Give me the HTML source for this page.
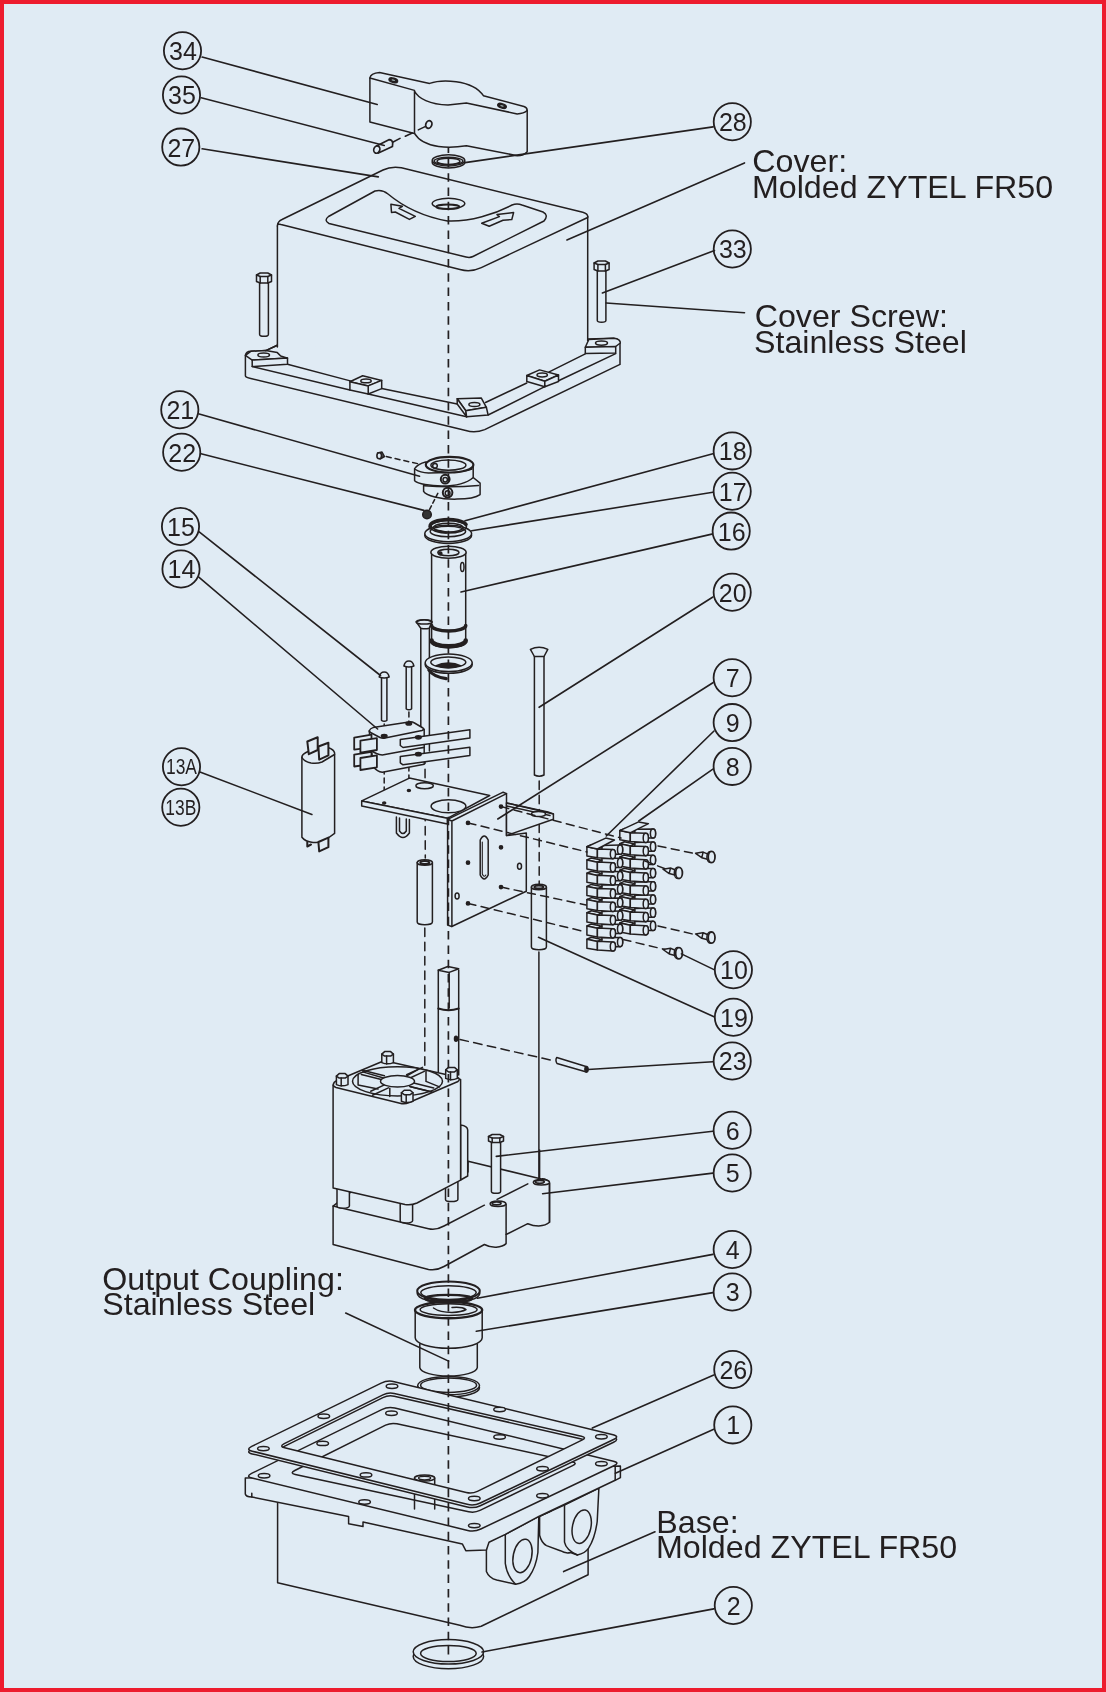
<!DOCTYPE html>
<html><head><meta charset="utf-8"><style>
html,body{margin:0;padding:0;background:#e0ebf4;}
svg{display:block;}
text{font-family:"Liberation Sans",sans-serif;fill:#231f20;}
.txt{filter:opacity(0.999);}
</style></head><body>
<svg width="1106" height="1692" viewBox="0 0 1106 1692">
<rect x="0" y="0" width="1106" height="1692" fill="#ed1c2e"/>
<rect x="4" y="4" width="1098" height="1684" fill="#e0ebf4"/>
<g fill="#e0ebf4" stroke="#231f20" stroke-width="1.5" stroke-linejoin="round" stroke-linecap="round">
<path d="M369.9,121.9 L369.9,78 Q370.5,73 379.6,72.4 L429.6,83.4 C440,79.5 472,78.5 483.4,95.7 L524,106.5 Q527.2,107.5 527.2,110.5 L527.2,151.8 Q524,155.7 517.2,155.7 L466.4,145.7 C452,148 424,149.5 414.5,133.4 Z"/>
<path d="M369.9,78 L414.5,90.4 L414.5,133.4 M414.5,91 C418,98.5 430,104.5 448,105 L466.4,103.1 L517.2,113.9 Q524,113.5 527.2,110.5" fill="none"/>
<ellipse cx="393.3" cy="80.3" rx="4.4" ry="2.1" transform="rotate(18 393.3 80.3)" fill="#231f20"/>
<ellipse cx="502.0" cy="105.9" rx="4.4" ry="2.1" transform="rotate(18 502.0 105.9)" fill="#231f20"/>
<ellipse cx="393.3" cy="80.2" rx="1.8" ry="0.7" transform="rotate(18 393.3 80.2)" fill="#9aa" stroke="none"/>
<ellipse cx="502.0" cy="105.8" rx="1.8" ry="0.7" transform="rotate(18 502.0 105.8)" fill="#9aa" stroke="none"/>
<ellipse cx="428.8" cy="124.5" rx="3.0" ry="3.9" transform="rotate(20 428.8 124.5)" stroke-width="1.8"/>
<path d="M392.7,142.2 L400,138.4 M405.3,136.2 L412.3,133 M418.3,129.9 L425.6,126.4" fill="none" stroke-width="1.6"/>
<path d="M376.5,146 L388.9,139.7 Q392.6,139.8 392.7,143.5 L392.4,146.6 L378.4,153" stroke-width="1.7"/>
<ellipse cx="376.8" cy="149.6" rx="3.0" ry="3.7" transform="rotate(20 376.8 149.6)" stroke-width="1.7"/>
<ellipse cx="448.5" cy="162.2" rx="16.3" ry="5.8"/>
<ellipse cx="448.5" cy="160.4" rx="16.3" ry="5.6"/>
<ellipse cx="448.5" cy="161.0" rx="14.4" ry="3.7"/>
<ellipse cx="448.5" cy="161.3" rx="11.5" ry="3.1" fill="none"/>
<path d="M245.4,375.7 L245.4,355.3 Q246,351.5 250.8,351.3 L265.8,350.6 L277.4,345.2 L587.7,339 L613.5,338.2 Q619.5,339 620,342.9 L620,364.4 L484.7,429.6 Q475,433.5 465.8,430.5 L250.8,378.4 Q245.4,377.5 245.4,375.7 Z"/>
<path d="M252.2,366.5 L349.9,389.9 M368.2,394 L466.6,416.8 M488.1,415 L544.8,386.7 M558.5,380.8 L615.7,353.6" fill="none"/>
<path d="M287.5,364.2 L351.2,381.1 M381.7,388.6 L457.2,404 M485.5,402.5 L526.8,383 M549.2,371.9 L585.3,353.8" fill="none"/>
<path d="M245.4,355.3 L250.8,351.3 L265.8,350.6 L277.3,352.6 L280.7,356.0 L287.5,358.1 L252.2,360.1Z"/>
<path d="M252.2,360.1 L287.5,358.1 L287.5,364.2 L252.2,366.5Z"/>
<path d="M277.3,345.2 L265.8,350.6" fill="none"/>
<ellipse cx="263.7" cy="355.1" rx="5.8" ry="2.0"/>
<path d="M349.9,381.8 L362.7,375.7 L381.7,380.4 L368.2,385.9Z"/>
<path d="M368.2,385.9 L381.7,380.4 L381.7,388.6 L368.2,394.0Z"/>
<path d="M349.9,381.8 L368.2,385.9 L368.2,394.0 L349.9,389.9Z"/>
<ellipse cx="366.0" cy="380.9" rx="5.2" ry="1.9"/>
<path d="M457.2,398.7 L481.2,397.9 L486.4,407.3 L465.8,410.7Z"/>
<path d="M457.2,398.7 L465.8,410.7 L466.6,416.8 L457.2,404.0Z"/>
<path d="M465.8,410.7 L486.4,407.3 L488.1,415.0 L466.6,416.8Z"/>
<ellipse cx="474.4" cy="404.6" rx="5.5" ry="2.0"/>
<path d="M526.8,375.5 L539.6,369.9 L558.5,375.0 L544.8,381.2Z"/>
<path d="M526.8,375.5 L544.8,381.2 L544.8,386.7 L526.8,381.5Z"/>
<path d="M544.8,381.2 L558.5,375.0 L558.5,381.5 L544.8,386.7Z"/>
<ellipse cx="542.2" cy="375.0" rx="5.2" ry="1.9"/>
<path d="M585.3,347.3 L588.8,339.5 L613.8,338.3 Q620.3,338.8 620.3,343 L615.7,346.5 Z"/>
<path d="M585.3,347.3 L615.7,346.5 L615.7,353.1 L585.3,353.6Z"/>
<ellipse cx="601.5" cy="343.1" rx="6.0" ry="2.1"/>
<path d="M277.4,226 L277.4,347.6 L587.7,341.3 L587.7,216 Z" stroke="none"/>
<path d="M277.4,226 L277.4,347 M587.7,216.5 L587.7,341" fill="none"/>
<path d="M277.4,226 Q277.5,221.5 282,219.5 L383,170 Q391,166 401.4,167.7 L582.8,212.3 Q588.3,213.8 587.7,217.5 L481.3,267.6 Q471,272.5 460,269.5 L281,224.5 Q277.4,223.5 277.4,226 Z"/>
<path d="M329,223.5 Q323.5,220.5 328.5,216.5 L375,191 Q382,189 388,194 C400,204 420,216 447.5,221 C470,222 495,214 512,205 Q517,203 522,205 L543,212 Q549,215 544,221 L473,256.5 Q470,258 466,257 Z" fill="none"/>
<ellipse cx="448.5" cy="203.6" rx="16.3" ry="5.3"/>
<ellipse cx="447.8" cy="206.8" rx="11.5" ry="2.2" stroke-width="2"/>
<path d="M390.9,204.2 L402.4,206.3 L399.0,208.3 L415.3,216.4 L409.4,219.4 L395.3,212.0 L391.5,212.4Z"/>
<path d="M513.6,212.6 L511.8,219.5 L503.0,220.3 L489.2,226.3 L481.7,223.3 L499.4,216.6 L497.0,214.6Z"/>
<path d="M259.6,281.5 L259.6,334.5 A4.4,1.8 0 0 0 268.4,334.5 L268.4,281.5"/>
<path d="M256.5,275.0 L260.2,273.0 L267.8,273.0 L271.5,275.0 L271.5,281.5 L267.8,283.0 L260.2,283.0 L256.5,281.5Z"/>
<path d="M256.5,275.0 L260.2,276.5 L267.8,276.5 L271.5,275.0"/>
<path d="M260.2,276.5 L260.2,283.0"/>
<path d="M267.8,276.5 L267.8,283.0"/>
<path d="M597.3,269.5 L597.3,320.6 A4.3,1.7 0 0 0 605.9,320.6 L605.9,269.5"/>
<path d="M594.1,263.0 L597.9,261.0 L605.4,261.0 L609.1,263.0 L609.1,269.5 L605.4,271.0 L597.9,271.0 L594.1,269.5Z"/>
<path d="M594.1,263.0 L597.9,264.5 L605.4,264.5 L609.1,263.0"/>
<path d="M597.9,264.5 L597.9,271.0"/>
<path d="M605.4,264.5 L605.4,271.0"/>
<path d="M423.6,484 L423.6,491.4 C426,495.5 440,499.5 457,499.1 C466,499 476,497.5 480.1,494.6 L480.1,483.2 L473.2,477.5 Z"/>
<path d="M424.4,485.7 Q450,488 478.5,485.5" fill="none"/>
<path d="M414.6,468.6 L414.6,480.8 C418,484 430,486 442,486 C455,486 466,484 473.2,477.5 L473.2,465 L425.6,462.1 Q418,464 414.6,468.6 Z"/>
<path d="M415.5,469.5 Q420,472.5 428.5,473 L449,472.6 Q465,471.5 472,469" fill="none"/>
<ellipse cx="449.6" cy="464.7" rx="23.8" ry="7.8" stroke-width="2.2"/>
<ellipse cx="448.4" cy="465.2" rx="17.5" ry="5.1"/>
<ellipse cx="435.0" cy="465.7" rx="2.3" ry="2.3"/>
<ellipse cx="445.2" cy="479.2" rx="4.4" ry="4.4" stroke-width="2"/>
<ellipse cx="445.2" cy="479.8" rx="2.2" ry="2.2"/>
<ellipse cx="447.6" cy="492.6" rx="4.8" ry="4.8" stroke-width="2"/>
<ellipse cx="447.6" cy="493.2" rx="2.4" ry="2.4"/>
<path d="M377.5,453 L382,452 L384.5,456.5 L380,459 Z" fill="#555"/>
<ellipse cx="379.2" cy="455.7" rx="2.3" ry="3.0" stroke-width="1.6"/>
<line x1="386.3" y1="456.6" x2="419.6" y2="464.1" stroke-dasharray="5,4" fill="none"/>
<circle cx="427" cy="514.5" r="4.3" fill="#333"/>
<line x1="429.6" y1="509.4" x2="438.6" y2="491.8" stroke-dasharray="4,3" fill="none"/>
<ellipse cx="448.2" cy="535.2" rx="23.4" ry="8.2"/>
<ellipse cx="448.2" cy="533.5" rx="23.4" ry="8.2"/>
<ellipse cx="447.9" cy="531.5" rx="17.7" ry="5.2" fill="none"/>
<ellipse cx="448.3" cy="526.8" rx="18.2" ry="6.2" fill="none"/>
<ellipse cx="448.3" cy="527.6" rx="14.8" ry="4.4" fill="none"/>
<path d="M430.6,527.5 A18,6.4 0 0 1 466,524.5" fill="none" stroke-width="3.6"/>
<path d="M436,530.5 L446,532.5" fill="none" stroke-width="2.6"/>
<path d="M431.6,552.2 L431.6,642 A17.05,5.8 0 0 0 465.7,642 L465.7,552.2 Z"/>
<ellipse cx="448.5" cy="552.2" rx="17.6" ry="6.0"/>
<ellipse cx="448.4" cy="552.5" rx="10.6" ry="3.2"/>
<ellipse cx="440.3" cy="553.4" rx="1.6" ry="1.4" fill="#231f20"/>
<ellipse cx="462.3" cy="567.0" rx="1.7" ry="4.5"/>
<path d="M431.6,625.5 A17.05,5.5 0 0 0 465.7,625.5" fill="none" stroke-width="3.6"/>
<path d="M431.6,640.5 A17.05,5.8 0 0 0 465.7,640.5" fill="none" stroke-width="4.6"/>
<path d="M420.8,628.1 L420.8,751 M429.4,628.1 L429.4,751" fill="none"/>
<path d="M416.2,621.9 Q424.1,617.5 432,621.9 L429.2,628.2 Q425,629.5 420.8,628.2 Z"/>
<ellipse cx="424.1" cy="621.9" rx="7.9" ry="2.2" fill="none"/>
<path d="M428.8,670 Q433,676.5 446.2,678.7" fill="none" stroke-width="3.2"/>
<ellipse cx="448.7" cy="664.6" rx="23.5" ry="8.7"/>
<ellipse cx="448.7" cy="662.8" rx="23.5" ry="8.7"/>
<ellipse cx="448.3" cy="662.3" rx="17.5" ry="5.4" fill="none"/>
<path d="M434.6,665.5 Q448.3,659 462.1,665.5 Q448.3,671.5 434.6,665.5 Z" fill="#231f20" stroke="none"/>
<path d="M381.5,676.5 L381.5,720.3 Q384.2,722.3 386.9,720.3 L386.9,676.5"/>
<path d="M379.2,677.0 Q380.2,672.0 384.2,672.0 Q388.2,672.0 389.2,677.0 Q384.2,679.0 379.2,677.0 Z"/>
<path d="M406.2,665.5 L406.2,708.8 Q408.9,710.8 411.6,708.8 L411.6,665.5"/>
<path d="M403.9,666.0 Q404.9,661.0 408.9,661.0 Q412.9,661.0 413.9,666.0 Q408.9,668.0 403.9,666.0 Z"/>
<path d="M534.4,656 L534.4,775 Q539.2,777.5 544,775 L544,656"/>
<path d="M530.4,649.4 Q539.1,645 547.8,649.4 L544,656.5 L534.4,656.5 Z"/>
<line x1="539.2" y1="781.0" x2="539.2" y2="884.0" stroke-dasharray="8.5,5.8" fill="none"/>
<line x1="384.2" y1="724.0" x2="384.2" y2="800.0" stroke-dasharray="5,4" fill="none"/>
<line x1="408.9" y1="712.0" x2="408.9" y2="787.0" stroke-dasharray="5,4" fill="none"/>
<line x1="425.0" y1="755.0" x2="425.3" y2="858.0" stroke-dasharray="8.5,5.8" fill="none"/>
<path d="M371.5,751 L373.8,767.3 Q377,771.5 382.3,772.3 L424.2,764.2 L424.2,747.3 Z"/>
<path d="M369.2,731 L371.5,750.4 Q376,754.5 382.3,755 L424.2,747.3 L424.2,729.2 Z"/>
<path d="M369.2,731 Q370,728.5 373,727.6 L409,721.9 Q412,721.5 414.5,723 L423,728 Q424.5,729.5 422,730.5 L385,738 Q382.3,738.6 380,737.5 L370.5,732.5 Z"/>
<path d="M400.3,739.6 L469.9,729.7 L469.9,737.9 L403.0,747.5 L400.3,745.5Z"/>
<path d="M400.3,756.6 L469.9,747.3 L469.9,755.6 L403.0,764.8 L400.3,762.8Z"/>
<path d="M354.2,737.7 L371.5,734.6 L371.5,747.3 L354.2,749.6Z" stroke-width="1.8"/>
<path d="M360.4,740.7 L376.9,738.1 L376.9,750.0 L360.4,752.7Z" stroke-width="1.8"/>
<path d="M354.2,754.6 L371.5,751.9 L371.5,764.2 L354.2,766.5Z" stroke-width="1.8"/>
<path d="M360.4,758.0 L376.9,755.4 L376.9,767.3 L360.4,770.0Z" stroke-width="1.8"/>
<ellipse cx="384.2" cy="736.1" rx="2.8" ry="1.6" fill="#231f20"/>
<ellipse cx="408.8" cy="723.5" rx="2.8" ry="1.6" fill="#231f20"/>
<ellipse cx="418.4" cy="737.3" rx="2.8" ry="1.6" fill="#231f20"/>
<ellipse cx="418.4" cy="754.2" rx="2.8" ry="1.6" fill="#231f20"/>
<path d="M361.7,800.9 L409.4,778.1 L489.7,795.5 L447.4,818.3 Z"/>
<path d="M361.7,800.9 L361.7,806 L447.4,824 L447.4,818.3 Z"/>
<ellipse cx="448.5" cy="806.3" rx="17.4" ry="6.5"/>
<ellipse cx="424.6" cy="785.7" rx="8.7" ry="3.0"/>
<path d="M396.4,817 L396.4,833 Q403,842 409.4,833 L409.4,819.5 M399.5,818 L399.5,831 Q403,836 406.3,831 L406.3,819" fill="none"/>
<ellipse cx="384.2" cy="803.0" rx="1.5" ry="1.0" fill="#231f20"/>
<ellipse cx="408.9" cy="790.5" rx="1.5" ry="1.0" fill="#231f20"/>
<path d="M447.6,819.3 L503.2,792.2 L506.5,793.6 L506.5,835.6 L526.3,832.9 L526.3,891.2 L451.7,926.5 L447.6,925.1 Z"/>
<path d="M447.6,819.3 L451.9,821 L506.5,793.6 M451.9,821 L451.9,926.5" fill="none"/>
<path d="M506.5,803 L553.4,813.9 L553.4,819.3 L506.5,835.6 Z"/>
<path d="M506.5,803 L548,812 L553.4,813.9 M506.5,806 L550,815.5" fill="none"/>
<ellipse cx="538.5" cy="813.9" rx="7.0" ry="2.5"/>
<path d="M480.2,840 Q484.2,832 488.2,840 L488.2,875 Q484.2,883 480.2,875 Z"/>
<path d="M482.3,842 L482.3,874 Q484,878 485.8,875" fill="none" stroke-width="1.1"/>
<ellipse cx="468.0" cy="822.9" rx="1.6" ry="1.6" fill="#231f20"/>
<ellipse cx="501.0" cy="806.6" rx="1.6" ry="1.6" fill="#231f20"/>
<ellipse cx="501.0" cy="847.3" rx="1.6" ry="1.6" fill="#231f20"/>
<ellipse cx="468.0" cy="862.7" rx="1.6" ry="1.6" fill="#231f20"/>
<ellipse cx="501.0" cy="887.1" rx="1.6" ry="1.6" fill="#231f20"/>
<ellipse cx="468.0" cy="903.4" rx="1.6" ry="1.6" fill="#231f20"/>
<ellipse cx="519.5" cy="866.2" rx="2.0" ry="3.0"/>
<ellipse cx="457.1" cy="896.1" rx="2.0" ry="3.0"/>
<path d="M301.9,757 L301.9,837.2 Q305,841.5 313,842.5 Q320,843 324,841 L334.6,833.4 L334.6,753 Q334,749.5 328,747.5 L320,746 L306,752.5 Q302,754.5 301.9,757 Z"/>
<path d="M302,757.5 Q304,761.5 311,763 Q317,764 322,762 L334.5,754.5" fill="none"/>
<path d="M307.3,741.5 L317.7,737.3 L317.7,750.0 L308.8,754.2Z" stroke-width="2"/>
<path d="M318.4,746.5 L328.4,742.7 L328.4,755.4 L319.2,759.6Z" stroke-width="2"/>
<path d="M318.4,842.0 L328.4,837.6 L328.4,847.2 L319.2,851.4Z" stroke-width="2"/>
<path d="M307.3,842 L307.3,846.5 L311,844.5" fill="none" stroke-width="2"/>
<path d="M417.2,862.5 L417.2,922.0 A7.6,2.8 0 0 0 432.4,922.0 L432.4,862.5"/>
<ellipse cx="424.8" cy="862.5" rx="7.6" ry="2.8"/>
<ellipse cx="424.8" cy="862.5" rx="4.5" ry="1.6" stroke-width="2"/>
<path d="M531.4,887.0 L531.4,947.0 A7.5,2.8 0 0 0 546.4,947.0 L546.4,887.0"/>
<ellipse cx="538.9" cy="887.0" rx="7.5" ry="2.8"/>
<ellipse cx="538.9" cy="887.0" rx="4.5" ry="1.6" stroke-width="2"/>
<line x1="424.8" y1="928.0" x2="424.8" y2="1090.0" stroke-dasharray="8.5,5.8" fill="none"/>
<line x1="538.9" y1="952.0" x2="538.9" y2="1181.0" fill="none"/>
<path d="M634.8,921.6 L653.0,921.3 A2.6,4.6 0 0 1 653.0,930.5 L634.8,930.5 Z"/>
<ellipse cx="653.0" cy="925.9" rx="2.6" ry="4.6"/>
<path d="M619.8,923.0 L624.3,921.0 L634.8,923.2 L630.3,925.2Z"/>
<path d="M619.8,923.0 L630.3,925.2 L630.3,933.9 L619.8,932.1Z"/>
<path d="M630.3,925.1 L645.8,925.7 A2.6,4.6 0 0 1 645.8,934.9 L630.3,933.9 Z"/>
<ellipse cx="645.8" cy="930.3" rx="2.6" ry="4.6"/>
<path d="M634.8,908.4 L653.0,908.1 A2.6,4.6 0 0 1 653.0,917.3 L634.8,917.3 Z"/>
<ellipse cx="653.0" cy="912.7" rx="2.6" ry="4.6"/>
<path d="M619.8,909.8 L624.3,907.8 L634.8,910.0 L630.3,912.0Z"/>
<path d="M619.8,909.8 L630.3,912.0 L630.3,920.7 L619.8,918.9Z"/>
<path d="M630.3,911.9 L645.8,912.5 A2.6,4.6 0 0 1 645.8,921.7 L630.3,920.7 Z"/>
<ellipse cx="645.8" cy="917.1" rx="2.6" ry="4.6"/>
<path d="M634.8,895.2 L653.0,894.9 A2.6,4.6 0 0 1 653.0,904.1 L634.8,904.1 Z"/>
<ellipse cx="653.0" cy="899.5" rx="2.6" ry="4.6"/>
<path d="M619.8,896.6 L624.3,894.6 L634.8,896.8 L630.3,898.8Z"/>
<path d="M619.8,896.6 L630.3,898.8 L630.3,907.5 L619.8,905.7Z"/>
<path d="M630.3,898.7 L645.8,899.3 A2.6,4.6 0 0 1 645.8,908.5 L630.3,907.5 Z"/>
<ellipse cx="645.8" cy="903.9" rx="2.6" ry="4.6"/>
<path d="M634.8,882.0 L653.0,881.7 A2.6,4.6 0 0 1 653.0,890.9 L634.8,890.9 Z"/>
<ellipse cx="653.0" cy="886.3" rx="2.6" ry="4.6"/>
<path d="M619.8,883.4 L624.3,881.4 L634.8,883.6 L630.3,885.6Z"/>
<path d="M619.8,883.4 L630.3,885.6 L630.3,894.3 L619.8,892.5Z"/>
<path d="M630.3,885.5 L645.8,886.1 A2.6,4.6 0 0 1 645.8,895.3 L630.3,894.3 Z"/>
<ellipse cx="645.8" cy="890.7" rx="2.6" ry="4.6"/>
<path d="M634.8,868.8 L653.0,868.5 A2.6,4.6 0 0 1 653.0,877.7 L634.8,877.7 Z"/>
<ellipse cx="653.0" cy="873.1" rx="2.6" ry="4.6"/>
<path d="M619.8,870.2 L624.3,868.2 L634.8,870.4 L630.3,872.4Z"/>
<path d="M619.8,870.2 L630.3,872.4 L630.3,881.1 L619.8,879.3Z"/>
<path d="M630.3,872.3 L645.8,872.9 A2.6,4.6 0 0 1 645.8,882.1 L630.3,881.1 Z"/>
<ellipse cx="645.8" cy="877.5" rx="2.6" ry="4.6"/>
<path d="M634.8,855.6 L653.0,855.3 A2.6,4.6 0 0 1 653.0,864.5 L634.8,864.5 Z"/>
<ellipse cx="653.0" cy="859.9" rx="2.6" ry="4.6"/>
<path d="M619.8,857.0 L624.3,855.0 L634.8,857.2 L630.3,859.2Z"/>
<path d="M619.8,857.0 L630.3,859.2 L630.3,867.9 L619.8,866.1Z"/>
<path d="M630.3,859.1 L645.8,859.7 A2.6,4.6 0 0 1 645.8,868.9 L630.3,867.9 Z"/>
<ellipse cx="645.8" cy="864.3" rx="2.6" ry="4.6"/>
<path d="M634.8,842.4 L653.0,842.1 A2.6,4.6 0 0 1 653.0,851.3 L634.8,851.3 Z"/>
<ellipse cx="653.0" cy="846.7" rx="2.6" ry="4.6"/>
<path d="M619.8,843.8 L624.3,841.8 L634.8,844.0 L630.3,846.0Z"/>
<path d="M619.8,843.8 L630.3,846.0 L630.3,854.7 L619.8,852.9Z"/>
<path d="M630.3,845.9 L645.8,846.5 A2.6,4.6 0 0 1 645.8,855.7 L630.3,854.7 Z"/>
<ellipse cx="645.8" cy="851.1" rx="2.6" ry="4.6"/>
<path d="M634.8,829.2 L653.0,828.9 A2.6,4.6 0 0 1 653.0,838.1 L634.8,838.1 Z"/>
<ellipse cx="653.0" cy="833.5" rx="2.6" ry="4.6"/>
<path d="M619.8,830.6 L624.3,828.6 L634.8,830.8 L630.3,832.8Z"/>
<path d="M619.8,830.6 L630.3,832.8 L630.3,841.5 L619.8,839.7Z"/>
<path d="M630.3,832.7 L645.8,833.3 A2.6,4.6 0 0 1 645.8,842.5 L630.3,841.5 Z"/>
<ellipse cx="645.8" cy="837.9" rx="2.6" ry="4.6"/>
<path d="M619.8,830.6 L638.6,821.9 L648.4,823.7 L630.6,832.7Z"/>
<path d="M601.9,937.8 L620.1,937.5 A2.6,4.6 0 0 1 620.1,946.7 L601.9,946.7 Z"/>
<ellipse cx="620.1" cy="942.1" rx="2.6" ry="4.6"/>
<path d="M586.9,939.2 L591.4,937.2 L601.9,939.4 L597.4,941.4Z"/>
<path d="M586.9,939.2 L597.4,941.4 L597.4,950.1 L586.9,948.3Z"/>
<path d="M597.4,941.3 L612.9,941.9 A2.6,4.6 0 0 1 612.9,951.1 L597.4,950.1 Z"/>
<ellipse cx="612.9" cy="946.5" rx="2.6" ry="4.6"/>
<path d="M601.9,924.6 L620.1,924.3 A2.6,4.6 0 0 1 620.1,933.5 L601.9,933.5 Z"/>
<ellipse cx="620.1" cy="928.9" rx="2.6" ry="4.6"/>
<path d="M586.9,926.0 L591.4,924.0 L601.9,926.2 L597.4,928.2Z"/>
<path d="M586.9,926.0 L597.4,928.2 L597.4,936.9 L586.9,935.1Z"/>
<path d="M597.4,928.1 L612.9,928.7 A2.6,4.6 0 0 1 612.9,937.9 L597.4,936.9 Z"/>
<ellipse cx="612.9" cy="933.3" rx="2.6" ry="4.6"/>
<path d="M601.9,911.4 L620.1,911.1 A2.6,4.6 0 0 1 620.1,920.3 L601.9,920.3 Z"/>
<ellipse cx="620.1" cy="915.7" rx="2.6" ry="4.6"/>
<path d="M586.9,912.8 L591.4,910.8 L601.9,913.0 L597.4,915.0Z"/>
<path d="M586.9,912.8 L597.4,915.0 L597.4,923.7 L586.9,921.9Z"/>
<path d="M597.4,914.9 L612.9,915.5 A2.6,4.6 0 0 1 612.9,924.7 L597.4,923.7 Z"/>
<ellipse cx="612.9" cy="920.1" rx="2.6" ry="4.6"/>
<path d="M601.9,898.2 L620.1,897.9 A2.6,4.6 0 0 1 620.1,907.1 L601.9,907.1 Z"/>
<ellipse cx="620.1" cy="902.5" rx="2.6" ry="4.6"/>
<path d="M586.9,899.6 L591.4,897.6 L601.9,899.8 L597.4,901.8Z"/>
<path d="M586.9,899.6 L597.4,901.8 L597.4,910.5 L586.9,908.7Z"/>
<path d="M597.4,901.7 L612.9,902.3 A2.6,4.6 0 0 1 612.9,911.5 L597.4,910.5 Z"/>
<ellipse cx="612.9" cy="906.9" rx="2.6" ry="4.6"/>
<path d="M601.9,885.0 L620.1,884.7 A2.6,4.6 0 0 1 620.1,893.9 L601.9,893.9 Z"/>
<ellipse cx="620.1" cy="889.3" rx="2.6" ry="4.6"/>
<path d="M586.9,886.4 L591.4,884.4 L601.9,886.6 L597.4,888.6Z"/>
<path d="M586.9,886.4 L597.4,888.6 L597.4,897.3 L586.9,895.5Z"/>
<path d="M597.4,888.5 L612.9,889.1 A2.6,4.6 0 0 1 612.9,898.3 L597.4,897.3 Z"/>
<ellipse cx="612.9" cy="893.7" rx="2.6" ry="4.6"/>
<path d="M601.9,871.8 L620.1,871.5 A2.6,4.6 0 0 1 620.1,880.7 L601.9,880.7 Z"/>
<ellipse cx="620.1" cy="876.1" rx="2.6" ry="4.6"/>
<path d="M586.9,873.2 L591.4,871.2 L601.9,873.4 L597.4,875.4Z"/>
<path d="M586.9,873.2 L597.4,875.4 L597.4,884.1 L586.9,882.3Z"/>
<path d="M597.4,875.3 L612.9,875.9 A2.6,4.6 0 0 1 612.9,885.1 L597.4,884.1 Z"/>
<ellipse cx="612.9" cy="880.5" rx="2.6" ry="4.6"/>
<path d="M601.9,858.6 L620.1,858.3 A2.6,4.6 0 0 1 620.1,867.5 L601.9,867.5 Z"/>
<ellipse cx="620.1" cy="862.9" rx="2.6" ry="4.6"/>
<path d="M586.9,860.0 L591.4,858.0 L601.9,860.2 L597.4,862.2Z"/>
<path d="M586.9,860.0 L597.4,862.2 L597.4,870.9 L586.9,869.1Z"/>
<path d="M597.4,862.1 L612.9,862.7 A2.6,4.6 0 0 1 612.9,871.9 L597.4,870.9 Z"/>
<ellipse cx="612.9" cy="867.3" rx="2.6" ry="4.6"/>
<path d="M601.9,845.4 L620.1,845.1 A2.6,4.6 0 0 1 620.1,854.3 L601.9,854.3 Z"/>
<ellipse cx="620.1" cy="849.7" rx="2.6" ry="4.6"/>
<path d="M586.9,846.8 L591.4,844.8 L601.9,847.0 L597.4,849.0Z"/>
<path d="M586.9,846.8 L597.4,849.0 L597.4,857.7 L586.9,855.9Z"/>
<path d="M597.4,848.9 L612.9,849.5 A2.6,4.6 0 0 1 612.9,858.7 L597.4,857.7 Z"/>
<ellipse cx="612.9" cy="854.1" rx="2.6" ry="4.6"/>
<path d="M586.9,846.8 L605.7,838.1 L614.4,840.0 L597.4,849.0Z"/>
<line x1="501.0" y1="806.6" x2="621.0" y2="838.0" stroke-dasharray="8,5.5" fill="none"/>
<line x1="468.0" y1="822.9" x2="587.0" y2="851.9" stroke-dasharray="8,5.5" fill="none"/>
<line x1="501.0" y1="887.1" x2="586.0" y2="905.0" stroke-dasharray="8,5.5" fill="none"/>
<line x1="468.0" y1="903.4" x2="586.0" y2="932.0" stroke-dasharray="8,5.5" fill="none"/>
<line x1="658.0" y1="846.0" x2="697.0" y2="854.0" stroke-dasharray="8,5.5" fill="none"/>
<line x1="645.0" y1="861.0" x2="667.0" y2="869.5" stroke-dasharray="8,5.5" fill="none"/>
<line x1="658.0" y1="926.0" x2="697.0" y2="935.0" stroke-dasharray="8,5.5" fill="none"/>
<line x1="623.0" y1="939.5" x2="665.0" y2="949.5" stroke-dasharray="8,5.5" fill="none"/>
<path d="M695.6,853.3 L703.1,852.1 L708.6,854.4 L707.6,859.2 L701.8,857.7 Z M703.1,852.1 L701.8,857.7"/>
<ellipse cx="710.3" cy="857.0" rx="3.4" ry="5.6"/>
<ellipse cx="711.6" cy="857.0" rx="3.4" ry="5.6" stroke-width="1.8"/>
<path d="M663.0,869.2 L670.5,868.0 L676.0,870.3 L675.0,875.1 L669.2,873.6 Z M670.5,868.0 L669.2,873.6"/>
<ellipse cx="677.7" cy="872.9" rx="3.4" ry="5.6"/>
<ellipse cx="679.0" cy="872.9" rx="3.4" ry="5.6" stroke-width="1.8"/>
<path d="M695.6,933.9 L703.1,932.7 L708.6,935.0 L707.6,939.8 L701.8,938.3 Z M703.1,932.7 L701.8,938.3"/>
<ellipse cx="710.3" cy="937.6" rx="3.4" ry="5.6"/>
<ellipse cx="711.6" cy="937.6" rx="3.4" ry="5.6" stroke-width="1.8"/>
<path d="M663.0,949.5 L670.5,948.3 L676.0,950.6 L675.0,955.4 L669.2,953.9 Z M670.5,948.3 L669.2,953.9"/>
<ellipse cx="677.7" cy="953.2" rx="3.4" ry="5.6"/>
<ellipse cx="679.0" cy="953.2" rx="3.4" ry="5.6" stroke-width="1.8"/>
<path d="M438.3,970 L438.3,1075 M458.7,970 L458.7,1075" fill="none"/>
<path d="M438.3,970.2 L447.8,966.5 L458.7,968.7 L449.2,972.4Z"/>
<line x1="449.2" y1="972.4" x2="449.2" y2="1008.0" fill="none"/>
<path d="M438.3,1008.5 Q448.5,1012 458.7,1008.5" fill="none" stroke-width="2"/>
<ellipse cx="456.0" cy="1038.7" rx="1.5" ry="2.5" fill="#231f20"/>
<line x1="460.0" y1="1039.5" x2="555.0" y2="1061.0" stroke-dasharray="8.5,5.5" fill="none"/>
<path d="M556.8,1057.5 L586,1066.5 Q589,1069 586.5,1072 L557,1063.5 Q555,1060 556.8,1057.5 Z"/>
<ellipse cx="586.5" cy="1069.3" rx="1.6" ry="2.8" fill="#231f20"/>
<path d="M333.1,1206.1 L333.1,1244.6 L428.5,1269.4 Q436,1271 444,1266.5 L484.4,1244.5 Q490,1247.5 496.2,1247.2 Q503,1246.5 506.1,1243.6 L506.1,1234.5 L527.8,1223.7 Q533,1226 538.7,1226 Q546,1225.5 549.5,1222.3 L549.5,1183 Q547,1178.5 541.4,1178.9 L468.1,1161.3 L468,1172 L360,1185 L333.1,1206.1 Z"/>
<path d="M333.1,1206.1 L428.5,1228.7 Q436,1230.5 444,1226 L484.4,1205.2 M506.1,1204.2 L506.1,1234.5 M497.1,1199.3 L527.8,1183.9 M549.5,1183 L549.5,1222.3" fill="none"/>
<ellipse cx="498.0" cy="1203.8" rx="7.9" ry="2.8"/>
<ellipse cx="496.6" cy="1203.3" rx="4.4" ry="1.5" stroke-width="1.8"/>
<ellipse cx="541.4" cy="1182.3" rx="8.1" ry="2.8"/>
<ellipse cx="539.8" cy="1181.8" rx="4.4" ry="1.5" stroke-width="1.8"/>
<line x1="539.6" y1="1150.0" x2="539.6" y2="1180.0" fill="none"/>
<path d="M491.4,1141.0 L491.4,1191.5 A4.6,1.8 0 0 0 500.6,1191.5 L500.6,1141.0"/>
<path d="M488.5,1136.5 L492.2,1134.5 L499.8,1134.5 L503.5,1136.5 L503.5,1141.0 L499.8,1142.5 L492.2,1142.5 L488.5,1141.0Z"/>
<path d="M488.5,1136.5 L492.2,1138.0 L499.8,1138.0 L503.5,1136.5"/>
<path d="M492.2,1138.0 L492.2,1142.5"/>
<path d="M499.8,1138.0 L499.8,1142.5"/>
<path d="M460.6,1125 Q467.5,1126 467.7,1130 L467.7,1176 L460.6,1180 Z"/>
<path d="M337.0,1188.0 L337.0,1206.1 A6.2,2.2 0 0 0 349.4,1206.1 L349.4,1188.0"/>
<path d="M400.2,1203.0 L400.2,1220.8 A6.2,2.2 0 0 0 412.6,1220.8 L412.6,1203.0"/>
<path d="M445.5,1182.0 L445.5,1199.4 A6.2,2.2 0 0 0 457.9,1199.4 L457.9,1182.0"/>
<path d="M333.1,1085.2 L333.1,1188 L405,1204.5 Q411,1205.5 417,1203 L460.6,1180.1 L460.6,1079.6 L385.6,1061.5 Z"/>
<path d="M333.2,1084.8 Q333.5,1082 337,1080.5 L381,1062 Q384.4,1060.8 388,1061.5 L457,1077 Q461,1079 458,1081.5 L409,1102.5 Q404.7,1104.5 400,1103.2 L336,1087.5 Q333.2,1086.5 333.2,1084.8 Z"/>
<ellipse cx="397.5" cy="1081.3" rx="45.0" ry="14.6"/>
<path d="M358.1,1074.7 L358.1,1085.1 L378,1089.1 M426,1071 L426,1081.4 L439.5,1086.9 M389.8,1088.2 L389.8,1096.4 M409.7,1086.4 L431.4,1091.8 M362.7,1071.9 L384.4,1078.3 L404.2,1077.4 L418.7,1069.2" fill="none"/>
<line x1="408.4" y1="1078.7" x2="424.3" y2="1071.4" fill="none"/>
<line x1="406.6" y1="1074.7" x2="422.5" y2="1067.4" fill="none"/>
<line x1="388.4" y1="1087.9" x2="372.5" y2="1095.2" fill="none"/>
<line x1="386.6" y1="1083.9" x2="370.7" y2="1091.2" fill="none"/>
<line x1="410.6" y1="1086.8" x2="432.6" y2="1092.3" fill="none"/>
<line x1="411.7" y1="1082.6" x2="433.7" y2="1088.1" fill="none"/>
<line x1="383.3" y1="1080.0" x2="361.3" y2="1074.5" fill="none"/>
<line x1="384.4" y1="1075.8" x2="362.4" y2="1070.3" fill="none"/>
<path d="M380.5,1081.3 A17,5.8 0 0 1 414.5,1081.3 A17,5.8 0 0 1 380.5,1081.3 Z"/>
<path d="M336.4,1076.1 L336.4,1084.6 Q342.2,1087.1 348.0,1084.6 L348.0,1076.1"/>
<path d="M336.4,1076.1 L339.2,1073.6 L345.2,1073.6 L348.0,1076.1 L345.2,1078.1 L339.2,1078.1Z"/>
<path d="M341.2,1078.1 L341.2,1086.1" fill="none"/>
<path d="M381.8,1054.1 L381.8,1062.6 Q387.6,1065.1 393.4,1062.6 L393.4,1054.1"/>
<path d="M381.8,1054.1 L384.6,1051.6 L390.6,1051.6 L393.4,1054.1 L390.6,1056.1 L384.6,1056.1Z"/>
<path d="M386.6,1056.1 L386.6,1064.1" fill="none"/>
<path d="M445.7,1069.9 L445.7,1078.4 Q451.5,1080.9 457.3,1078.4 L457.3,1069.9"/>
<path d="M445.7,1069.9 L448.5,1067.4 L454.5,1067.4 L457.3,1069.9 L454.5,1071.9 L448.5,1071.9Z"/>
<path d="M450.5,1071.9 L450.5,1079.9" fill="none"/>
<path d="M401.4,1092.7 L401.4,1101.2 Q407.2,1103.7 413.0,1101.2 L413.0,1092.7"/>
<path d="M401.4,1092.7 L404.2,1090.2 L410.2,1090.2 L413.0,1092.7 L410.2,1094.7 L404.2,1094.7Z"/>
<path d="M406.2,1094.7 L406.2,1102.7" fill="none"/>
<path d="M415.2,1310 L415.2,1337.8 A33.5,10.5 0 0 0 482.2,1337.8 L482.2,1310 Z"/>
<path d="M419.8,1344 L419.8,1367.6 A28.8,9 0 0 0 477.3,1367.6 L477.3,1344" fill="none"/>
<ellipse cx="448.6" cy="1310.1" rx="33.6" ry="8.1" stroke-width="2.4"/>
<ellipse cx="448.6" cy="1309.6" rx="28.5" ry="5.8" stroke-width="1.5"/>
<path d="M433.5,1308 Q440,1312.5 452,1312.5 Q462,1312 466,1309.5 Q462,1306.5 452,1307.5" fill="none"/>
<ellipse cx="448.5" cy="1293.2" rx="31.3" ry="9.6"/>
<ellipse cx="448.5" cy="1291.0" rx="31.3" ry="9.6" stroke-width="2"/>
<ellipse cx="448.5" cy="1292.6" rx="27.7" ry="6.8" fill="none"/>
<ellipse cx="448.5" cy="1298.4" rx="23.5" ry="3.6" fill="none" stroke-width="2.3"/>
<ellipse cx="448.6" cy="1387.8" rx="30.9" ry="9.2"/>
<ellipse cx="448.6" cy="1385.6" rx="30.9" ry="9.2"/>
<ellipse cx="448.6" cy="1385.2" rx="28.0" ry="7.2" fill="none"/>
<path d="M277.6,1497 L277.6,1582.7 L459.8,1625.3 Q470.9,1629.5 481.2,1626.3 L588.1,1574.8 L588.1,1500 Z"/>
<path d="M486.4,1542.2 L486.4,1571.4 Q489,1578 496.7,1580 L515.6,1584.2 Q525,1583 529.3,1576.5 Q536,1567 537.9,1552.5 L538.8,1516.4 L505.3,1534.4 Z"/>
<path d="M505.3,1534.4 L505.3,1563.5 Q507,1576 515.6,1584.2" fill="none"/>
<ellipse cx="522.5" cy="1555.9" rx="9.2" ry="17.0" transform="rotate(12 522.5 1555.9)"/>
<path d="M539.6,1516.4 L539.6,1535.3 Q541.5,1543 546.5,1545.6 L560.3,1550.7 Q566,1554 570.5,1552.5 L577.4,1555 Q585,1553.5 588.6,1548.2 Q595,1538 597.2,1521.5 L598.9,1488 L564.5,1505.2 L563.7,1505.2 Z"/>
<path d="M564.5,1505.2 L564.5,1542.2 Q566,1550 577.4,1555 M539.6,1516.4 L551,1511 L551,1509 L563.7,1503" fill="none"/>
<ellipse cx="581.7" cy="1526.7" rx="9.2" ry="17.0" transform="rotate(12 581.7 1526.7)"/>
<path d="M245.3,1478 L245.3,1494 Q246,1497 251.8,1497 L348.6,1516.5 L348.6,1523.8 L363,1526.5 L363,1522 L462.3,1543.9 L465.8,1550.7 L486.4,1549.9 L489,1542.2 L505.3,1534.4 L538.8,1516.4 L598.9,1488 L615.2,1480.3 L620.4,1477.7 L620.4,1466 Z"/>
<path d="M252.1,1478.1 Q245.3,1476.5 251.6,1473.4 L381.7,1409.6 Q388.0,1406.5 394.8,1408.1 L613.4,1461.2 Q620.2,1462.8 613.9,1465.8 L480.8,1529.0 Q474.5,1532.0 467.7,1530.4 Z"/>
<path d="M251.8,1493.2 L251.8,1497 M615.2,1466 L615.2,1480.3" fill="none"/>
<path d="M295.3,1474.5 Q289.4,1473.2 294.8,1470.5 L385.6,1425.2 Q391.0,1422.5 396.9,1423.8 L572.1,1461.7 Q578.0,1463.0 572.6,1465.6 L480.0,1510.4 Q474.6,1513.0 468.7,1511.7 Z" fill="none"/>
<ellipse cx="264.1" cy="1475.8" rx="5.8" ry="2.2"/>
<ellipse cx="322.7" cy="1443.4" rx="5.8" ry="2.2"/>
<ellipse cx="391.5" cy="1413.3" rx="5.8" ry="2.2"/>
<ellipse cx="499.6" cy="1437.0" rx="5.8" ry="2.2"/>
<ellipse cx="601.4" cy="1463.8" rx="5.8" ry="2.2"/>
<ellipse cx="542.5" cy="1495.8" rx="5.8" ry="2.2"/>
<ellipse cx="474.3" cy="1525.6" rx="5.8" ry="2.2"/>
<ellipse cx="364.6" cy="1502.0" rx="5.8" ry="2.2"/>
<path d="M414.5,1478 L414.5,1509 M434.7,1478 L434.7,1509" fill="none"/>
<ellipse cx="424.6" cy="1478.1" rx="10.1" ry="3.0"/>
<ellipse cx="424.6" cy="1478.1" rx="6.0" ry="1.8"/>
<path d="M252.2,1453.9 Q245.4,1452.2 251.7,1449.1 L381.2,1385.8 Q387.5,1382.7 394.3,1384.4 L613.1,1437.5 Q619.9,1439.2 613.6,1442.2 L480.3,1505.7 Q474.0,1508.7 467.2,1507.0 Z M284.7,1450.5 Q278.9,1449.1 284.3,1446.4 L382.9,1397.6 Q388.3,1394.9 394.2,1396.2 L581.4,1438.9 Q587.3,1440.2 581.9,1442.8 L477.4,1494.1 Q472.0,1496.7 466.2,1495.3 Z" fill-rule="evenodd"/>
<path d="M252.2,1451.2 Q245.4,1449.5 251.7,1446.4 L381.2,1383.1 Q387.5,1380.0 394.3,1381.7 L613.1,1434.8 Q619.9,1436.5 613.6,1439.5 L480.3,1503.0 Q474.0,1506.0 467.2,1504.3 Z M284.7,1447.8 Q278.9,1446.4 284.3,1443.7 L382.9,1394.9 Q388.3,1392.2 394.2,1393.5 L581.4,1436.2 Q587.3,1437.5 581.9,1440.1 L477.4,1491.4 Q472.0,1494.0 466.2,1492.6 Z" fill-rule="evenodd"/>
<ellipse cx="263.4" cy="1448.6" rx="5.8" ry="2.2"/>
<ellipse cx="323.8" cy="1416.3" rx="5.8" ry="2.2"/>
<ellipse cx="392.0" cy="1386.3" rx="5.8" ry="2.2"/>
<ellipse cx="499.6" cy="1409.5" rx="5.8" ry="2.2"/>
<ellipse cx="601.4" cy="1436.7" rx="5.8" ry="2.2"/>
<ellipse cx="542.5" cy="1468.7" rx="5.8" ry="2.2"/>
<ellipse cx="474.3" cy="1498.5" rx="5.8" ry="2.2"/>
<ellipse cx="366.0" cy="1474.9" rx="5.8" ry="2.2"/>
<ellipse cx="448.4" cy="1656.5" rx="35.2" ry="12.2"/>
<ellipse cx="448.4" cy="1651.8" rx="35.2" ry="12.2"/>
<ellipse cx="448.4" cy="1653.5" rx="27.8" ry="8.0" fill="none"/>
</g>
<g fill="none" stroke="#231f20" stroke-width="1.6" stroke-linecap="round">
<line x1="202.1" y1="57.1" x2="377.2" y2="104.5"/>
<line x1="201.2" y1="97.8" x2="384.3" y2="145.4"/>
<line x1="202.1" y1="148.8" x2="378.3" y2="176.9"/>
<line x1="713.1" y1="126.9" x2="465.0" y2="162.6"/>
<line x1="744.5" y1="162.9" x2="566.9" y2="239.9"/>
<line x1="714.5" y1="250.5" x2="602.4" y2="292.9"/>
<line x1="744.5" y1="312.7" x2="606.1" y2="303.0"/>
<line x1="199.2" y1="414.0" x2="419.5" y2="476.3"/>
<line x1="201.0" y1="453.8" x2="423.9" y2="510.4"/>
<line x1="712.9" y1="453.7" x2="465.0" y2="520.8"/>
<line x1="712.9" y1="492.3" x2="471.7" y2="530.7"/>
<line x1="711.8" y1="534.1" x2="461.0" y2="592.0"/>
<line x1="199.2" y1="531.9" x2="380.5" y2="675.5"/>
<line x1="198.8" y1="577.1" x2="377.6" y2="729.0"/>
<line x1="712.9" y1="597.0" x2="539.1" y2="707.3"/>
<line x1="712.9" y1="682.7" x2="497.8" y2="819.0"/>
<line x1="714.0" y1="731.0" x2="606.3" y2="836.0"/>
<line x1="712.9" y1="769.2" x2="638.8" y2="821.0"/>
<line x1="200.6" y1="772.2" x2="311.9" y2="814.5"/>
<line x1="714.0" y1="969.6" x2="681.4" y2="953.9"/>
<line x1="714.0" y1="1016.8" x2="538.5" y2="937.3"/>
<line x1="712.9" y1="1061.7" x2="588.0" y2="1069.5"/>
<line x1="712.9" y1="1131.3" x2="496.3" y2="1156.4"/>
<line x1="712.9" y1="1173.1" x2="542.6" y2="1193.7"/>
<line x1="712.9" y1="1254.4" x2="477.3" y2="1298.2"/>
<line x1="712.9" y1="1292.6" x2="476.3" y2="1331.3"/>
<line x1="713.8" y1="1375.0" x2="592.3" y2="1428.1"/>
<line x1="713.8" y1="1429.3" x2="615.4" y2="1473.2"/>
<line x1="655.0" y1="1531.8" x2="563.6" y2="1571.6"/>
<line x1="713.8" y1="1608.9" x2="482.0" y2="1652.0"/>
<line x1="345.7" y1="1313.0" x2="448.6" y2="1361.1"/>
<line x1="448.4" y1="147.5" x2="448.4" y2="1654.6" stroke-dasharray="8.5,5.8" stroke-dashoffset="2.9" stroke-linecap="butt" stroke-width="1.7"/>
</g>
<g fill="none" stroke="#231f20" stroke-width="1.8">
<circle cx="182.5" cy="50.7" r="18.6"/>
<circle cx="181.5" cy="95" r="18.6"/>
<circle cx="180.8" cy="147.1" r="18.6"/>
<circle cx="732.3" cy="121.8" r="18.6"/>
<circle cx="732.3" cy="249" r="18.6"/>
<circle cx="179.8" cy="409.8" r="18.6"/>
<circle cx="181.7" cy="452.3" r="18.6"/>
<circle cx="732.2" cy="450.9" r="18.6"/>
<circle cx="732.2" cy="491.3" r="18.6"/>
<circle cx="731.2" cy="531.1" r="18.6"/>
<circle cx="180.5" cy="526.5" r="18.6"/>
<circle cx="181" cy="569" r="18.6"/>
<circle cx="732.2" cy="592.3" r="18.6"/>
<circle cx="732.2" cy="677.7" r="18.6"/>
<circle cx="732.2" cy="722.6" r="18.6"/>
<circle cx="732.2" cy="766.4" r="18.6"/>
<circle cx="181.5" cy="766.7" r="18.6"/>
<circle cx="180.8" cy="807.3" r="18.6"/>
<circle cx="733.4" cy="969.8" r="18.6"/>
<circle cx="733.4" cy="1017.3" r="18.6"/>
<circle cx="732.2" cy="1061" r="18.6"/>
<circle cx="732.2" cy="1130.3" r="18.6"/>
<circle cx="732.2" cy="1173" r="18.6"/>
<circle cx="732.2" cy="1249.5" r="18.6"/>
<circle cx="732.2" cy="1292" r="18.6"/>
<circle cx="732.8" cy="1369.5" r="18.6"/>
<circle cx="732.8" cy="1424.9" r="18.6"/>
<circle cx="733.3" cy="1605.5" r="18.6"/>
</g>
<g class="txt" font-size="25" text-anchor="middle">
<text x="183.0" y="60.1">34</text>
<text x="182.0" y="104.4">35</text>
<text x="181.3" y="156.5">27</text>
<text x="732.8" y="131.2">28</text>
<text x="732.8" y="258.4">33</text>
<text x="180.3" y="419.2">21</text>
<text x="182.2" y="461.7">22</text>
<text x="732.7" y="460.3">18</text>
<text x="732.7" y="500.7">17</text>
<text x="731.7" y="540.5">16</text>
<text x="181.0" y="535.9">15</text>
<text x="181.5" y="578.4">14</text>
<text x="732.7" y="601.7">20</text>
<text x="732.7" y="687.1">7</text>
<text x="732.7" y="732.0">9</text>
<text x="732.7" y="775.8">8</text>
<text x="181.5" y="774.2" font-size="22" textLength="31" lengthAdjust="spacingAndGlyphs">13A</text>
<text x="180.8" y="814.8" font-size="22" textLength="31" lengthAdjust="spacingAndGlyphs">13B</text>
<text x="733.9" y="979.2">10</text>
<text x="733.9" y="1026.7">19</text>
<text x="732.7" y="1070.4">23</text>
<text x="732.7" y="1139.7">6</text>
<text x="732.7" y="1182.4">5</text>
<text x="732.7" y="1258.9">4</text>
<text x="732.7" y="1301.4">3</text>
<text x="733.3" y="1378.9">26</text>
<text x="733.3" y="1434.3">1</text>
<text x="733.8" y="1614.9">2</text>
</g>
<g class="txt" font-size="32.2">
<text x="752.3" y="172.3">Cover:</text><text x="752" y="197.6">Molded ZYTEL FR50</text>
<text x="754.7" y="327.2">Cover Screw:</text><text x="754" y="352.5">Stainless Steel</text>
<text x="102.3" y="1290">Output Coupling:</text><text x="102.3" y="1315">Stainless Steel</text>
<text x="656.3" y="1533">Base:</text><text x="656" y="1558.4">Molded ZYTEL FR50</text>
</g>
</svg></body></html>
